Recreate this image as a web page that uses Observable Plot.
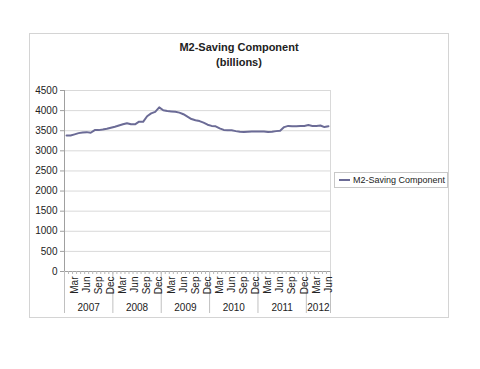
<!DOCTYPE html>
<html>
<head>
<meta charset="utf-8">
<script src="https://cdn.jsdelivr.net/npm/d3@7"></script>
<script src="https://cdn.jsdelivr.net/npm/@observablehq/plot@0.6"></script>
<style>
  html, body { margin: 0; padding: 0; background: #fff; }
  #wrap { position: relative; width: 480px; height: 369px; overflow: hidden; font-family: "Liberation Sans", Arial, sans-serif; color: #222; }
  #frame { position: absolute; left: 29px; top: 33px; width: 418px; height: 283px; border: 1px solid #d4d4d4; }
  #title { position: absolute; left: 29px; width: 420px; top: 40px; text-align: center; font-weight: bold; font-size: 11px; line-height: 15px; color: #222; }
  #legend { position: absolute; left: 334px; top: 172px; width: 112px; height: 14px; border: 1px solid #c8c8c8; background: #fff; font-size: 9px; line-height: 14px; white-space: nowrap; }
  #legend .sw { position: absolute; left: 4px; top: 6px; width: 11px; height: 2px; }
  #legend .lb { position: absolute; left: 18px; top: 0; }
  #chart { position: absolute; left: 0; top: 0; }
</style>
</head>
<body>
<div id="wrap">
  <div id="frame"></div>
  <div id="chart"></div>
  <div id="title">M2-Saving Component<br>(billions)</div>
  <div id="legend"><div class="sw"></div><div class="lb"></div></div>
</div>
<script>
// Data: monthly, Jan 2007 – Jun 2012 (billions)
const seriesName = "M2-Saving Component";
const years = [2007, 2008, 2009, 2010, 2011, 2012];
const monthNames = ["Jan","Feb","Mar","Apr","May","Jun","Jul","Aug","Sep","Oct","Nov","Dec"];
const labeledMonths = ["Mar","Jun","Sep","Dec"];
const values = [
  3380, 3380, 3410, 3440, 3455, 3465, 3450, 3515, 3515, 3530, 3550, 3575, // 2007
  3600, 3630, 3660, 3685, 3660, 3660, 3725, 3720, 3860, 3930, 3970, 4080, // 2008
  4010, 3990, 3980, 3970, 3950, 3910, 3850, 3790, 3760, 3740, 3700, 3650, // 2009
  3620, 3610, 3560, 3520, 3510, 3510, 3490, 3475, 3470, 3475, 3480, 3480, // 2010
  3480, 3480, 3470, 3475, 3490, 3500, 3590, 3620, 3610, 3610, 3620, 3620, // 2011
  3640, 3620, 3620, 3630, 3590, 3610                                      // 2012
];
const yTicks = [0, 500, 1000, 1500, 2000, 2500, 3000, 3500, 4000, 4500];

const lineColor = "#6b6b96";

const data = values.map((v, i) => ({
  i, v,
  year: years[0] + Math.floor(i / 12),
  month: monthNames[i % 12]
}));
const n = data.length;
const monthLabels = data.filter(d => labeledMonths.includes(d.month));
const yearGroups = years.map(y => {
  const rows = data.filter(d => d.year === y);
  return { year: y, start: rows[0].i, end: rows[rows.length - 1].i + 1 };
});
const boundaries = [0, ...yearGroups.map(g => g.end)];
const monthBounds = d3.range(n + 1);

const chart = Plot.plot({
  width: 480,
  height: 369,
  marginLeft: 64,
  marginRight: 150,
  marginTop: 90,
  marginBottom: 98,
  x: { domain: [0, n], axis: null },
  y: { domain: [0, 4500], axis: null },
  style: { fontFamily: "Liberation Sans, Arial, sans-serif", background: "transparent", color: "#222", overflow: "visible" },
  marks: [
    Plot.ruleY(yTicks, { stroke: "#d9d9d9" }),
    Plot.frame({ stroke: "#d9d9d9" }),
    Plot.ruleX([0], { stroke: "#a0a0a0" }),
    Plot.ruleY([0], { stroke: "#a0a0a0" }),
    Plot.axisY(yTicks, { tickSize: 4, tickPadding: 3, fontSize: 10, stroke: "#a0a0a0", fill: "#222", label: null, tickFormat: d => String(d) }),
    // month tick marks below the axis
    Plot.ruleX(monthBounds, { x: d => d, stroke: "#b8b8b8", insetTop: 181, insetBottom: -3 }),
    // year separators
    Plot.ruleX(boundaries, { x: d => d, stroke: "#c0c0c0", insetTop: 181, insetBottom: -42 }),
    Plot.text(monthLabels, {
      x: d => d.i + 0.5, y: () => 0, text: d => d.month,
      rotate: -90, textAnchor: "end", lineAnchor: "middle", dy: 5, fontSize: 10, fill: "#222"
    }),
    Plot.text(yearGroups, {
      x: d => (d.start + d.end) / 2, y: () => 0, text: d => String(d.year),
      dy: 36, fontSize: 10, lineAnchor: "middle", fill: "#222"
    }),
    Plot.lineY(data, { x: d => d.i + 0.5, y: "v", stroke: lineColor, strokeWidth: 2 })
  ]
});
document.getElementById("chart").appendChild(chart);
document.querySelector("#legend .sw").style.background = lineColor;
document.querySelector("#legend .lb").textContent = seriesName;
</script>
</body>
</html>
